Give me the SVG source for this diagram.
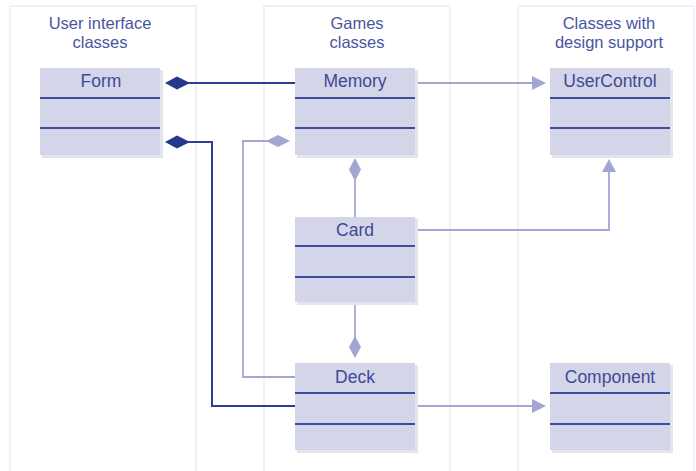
<svg xmlns="http://www.w3.org/2000/svg" width="696" height="471" viewBox="0 0 696 471">
<defs>
<style>
.panel{fill:#ffffff;stroke:#e6e6f0;stroke-width:1.2}
.title{font-family:"Liberation Sans",Arial,sans-serif;font-size:16.5px;fill:#4a55a0;text-anchor:middle}
.box{fill:#d5d5e9}
.shadow{fill:#e4e4ec}
.sep{stroke:#3d4c9c;stroke-width:2.2}
.name{font-family:"Liberation Sans",Arial,sans-serif;font-size:17.5px;fill:#3d4a96;text-anchor:middle}
.dark{fill:none;stroke:#2c3f94;stroke-width:2}
.light{fill:none;stroke:#a4a6d2;stroke-width:1.8}
.darkfill{fill:#24398c}
.lightfill{fill:#a4a6d2}
</style>
</defs>
<rect width="696" height="471" fill="#ffffff"/>
<g id="panels">
<rect class="panel" x="10" y="6" width="186" height="466"/>
<rect class="panel" x="264" y="6" width="186" height="466"/>
<rect class="panel" x="518" y="6" width="176" height="466"/>
<text class="title" x="100" y="29">User interface</text>
<text class="title" x="100" y="48">classes</text>
<text class="title" x="357" y="29">Games</text>
<text class="title" x="357" y="48">classes</text>
<text class="title" x="609" y="29">Classes with</text>
<text class="title" x="609" y="48">design support</text>
</g>
<g id="connectors">
<line class="dark" x1="188" y1="83" x2="295" y2="83"/>
<polyline class="dark" points="188,142 212,142 212,406 295,406"/>
<polyline class="light" points="268,141 243,141 243,377 295,377"/>
<line class="light" x1="415" y1="83" x2="535" y2="83"/>
<polyline class="light" points="415,230 609,230 609,170"/>
<line class="light" x1="355" y1="180" x2="355" y2="217"/>
<line class="light" x1="355" y1="302" x2="355" y2="338"/>
<line class="light" x1="415" y1="406" x2="535" y2="406"/>
<polygon class="darkfill" points="165,83 177,76.5 190,83 177,89.5"/>
<polygon class="darkfill" points="165,142 177,135.5 190,142 177,148.5"/>
<polygon class="lightfill" points="266,141 278,135 290,141 278,147"/>
<polygon class="lightfill" points="355,158 361,169.5 355,181 349,169.5"/>
<polygon class="lightfill" points="355,336 361,347 355,358 349,347"/>
<polygon class="lightfill" points="546,83 532,76 532,90"/>
<polygon class="lightfill" points="609,159 602,172 616,172"/>
<polygon class="lightfill" points="546,406 532,399 532,413"/>
</g>
<g id="Form">
<rect class="shadow" x="42" y="70" width="121" height="88"/>
<rect class="box" x="40" y="68" width="120" height="87"/>
<line class="sep" x1="40" y1="98" x2="160" y2="98"/>
<line class="sep" x1="40" y1="128" x2="160" y2="128"/>
<text class="name" x="101" y="87">Form</text>
</g>
<g id="Memory">
<rect class="shadow" x="297" y="70" width="121" height="88"/>
<rect class="box" x="295" y="68" width="120" height="87"/>
<line class="sep" x1="295" y1="98" x2="415" y2="98"/>
<line class="sep" x1="295" y1="128" x2="415" y2="128"/>
<text class="name" x="355" y="87">Memory</text>
</g>
<g id="UserControl">
<rect class="shadow" x="552" y="70" width="121" height="88"/>
<rect class="box" x="550" y="68" width="120" height="87"/>
<line class="sep" x1="550" y1="98" x2="670" y2="98"/>
<line class="sep" x1="550" y1="128" x2="670" y2="128"/>
<text class="name" x="610" y="87">UserControl</text>
</g>
<g id="Card">
<rect class="shadow" x="297" y="219" width="121" height="86"/>
<rect class="box" x="295" y="217" width="120" height="85"/>
<line class="sep" x1="295" y1="246" x2="415" y2="246"/>
<line class="sep" x1="295" y1="277" x2="415" y2="277"/>
<text class="name" x="355" y="236">Card</text>
</g>
<g id="Deck">
<rect class="shadow" x="297" y="365" width="121" height="88"/>
<rect class="box" x="295" y="363" width="120" height="87"/>
<line class="sep" x1="295" y1="393" x2="415" y2="393"/>
<line class="sep" x1="295" y1="424" x2="415" y2="424"/>
<text class="name" x="355" y="383">Deck</text>
</g>
<g id="Component">
<rect class="shadow" x="552" y="365" width="121" height="88"/>
<rect class="box" x="550" y="363" width="120" height="87"/>
<line class="sep" x1="550" y1="393" x2="670" y2="393"/>
<line class="sep" x1="550" y1="424" x2="670" y2="424"/>
<text class="name" x="610" y="383">Component</text>
</g>
</svg>
